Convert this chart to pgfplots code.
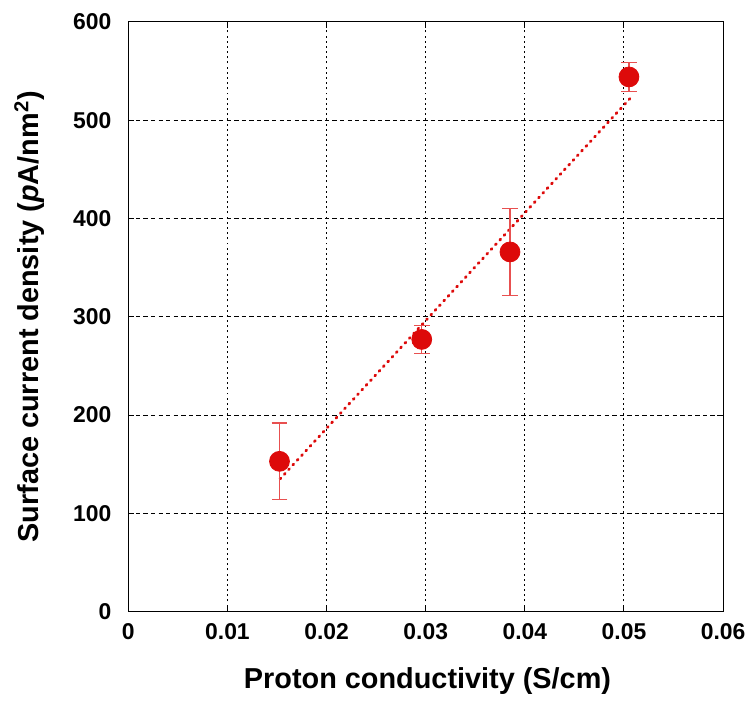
\documentclass[border=0pt]{standalone}
\usepackage{pgfplots}
\pgfplotsset{compat=1.18}
\usepackage{fontspec}
\setmainfont{Liberation Sans}
\definecolor{dot}{HTML}{DD0A0A}
\definecolor{bar}{HTML}{E85050}
\begin{document}
\begin{tikzpicture}
\begin{axis}[
  scale only axis, width=299pt, height=296.5pt,
  xmin=0, xmax=0.06, ymin=0, ymax=600,
  xtick={0,0.01,...,0.06}, ytick={0,100,...,600},
  xticklabels={0,0.01,0.02,0.03,0.04,0.05,0.06},
  scaled x ticks=false,
  /pgf/number format/assume math mode=true,
  ticklabel style={font=\fontsize{11.5}{13}\selectfont\bfseries},
  xticklabel style={yshift=-2.5pt},
  yticklabel style={xshift=-5pt},
  label style={font=\fontsize{14.5}{17}\selectfont\bfseries},
  axis line style={black, line width=0.6pt},
  tick style={black, line width=0.5pt}, tick align=inside, major tick length=3pt,
  grid=major,
  x grid style={black, line width=0.5pt, dash pattern=on 1pt off 1.6pt},
  y grid style={black, line width=0.5pt, dash pattern=on 2.2pt off 1.6pt},
  xlabel={Proton conductivity (S/cm)},
  ylabel={Surface current density (\textit{p}A/nm\textsuperscript{2})},
  xlabel style={at={(axis description cs:0.503,-0.118)}, anchor=center},
  ylabel style={at={(axis description cs:-0.166,0.5)}, anchor=center},
  clip=false,
]
\addplot[dot, line width=1.4pt, line cap=round, dash pattern=on 0.6pt off 2.6pt, mark=none]
  coordinates {(0.0153,135) (0.0506,522)};
\addplot[bar, line width=0.6pt, mark=none, only marks,
  error bars/.cd, y dir=both, y explicit,
  error bar style={bar, line width=0.6pt},
  error mark options={bar, line width=0.6pt, mark size=4pt, rotate=90}]
  coordinates {
    (0.01525,153) +- (0,39)
    (0.0296,277) +- (0,14)
    (0.0385,366) +- (0,44)
    (0.0505,544) +- (0,15)
  };
\addplot[only marks, mark=*, mark size=5pt, dot, mark options={draw=dot, fill=dot}]
  coordinates {(0.01525,153) (0.0296,277) (0.0385,366) (0.0505,544)};
\coordinate (O) at (rel axis cs:0,0);
\end{axis}
\path (O) ++(-64.5pt,-43.5pt) rectangle ++(376pt,351pt);
\end{tikzpicture}
\end{document}
